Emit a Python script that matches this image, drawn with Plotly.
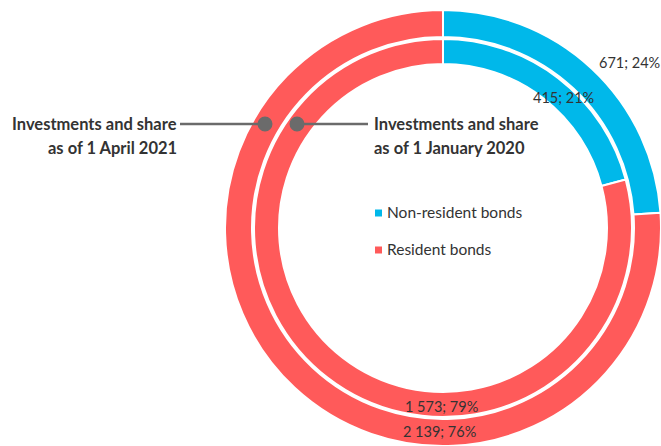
import plotly.graph_objects as go

# Bond investments: outer ring = 1 April 2021, inner ring = 1 January 2020
categories = ["Non-resident bonds", "Resident bonds"]
values_2021 = [671, 2139]
values_2020 = [415, 1573]
colors = ["#00B8EA", "#FF5A5A"]

W, H = 661, 446
CX, CY = 443, 228  # ring centre in pixels
TEXT = "#333333"
FONT = "Lato"


def px(x):
    return x / W


def py(y):
    return 1 - y / H


def fmt(v, total):
    return f"{v:,}".replace(",", " ") + f"; {round(100 * v / total)}%"


def ring(values, r_out, r_in):
    return go.Pie(
        labels=categories,
        values=values,
        hole=r_in / r_out,
        sort=False,
        direction="clockwise",
        rotation=0,
        textinfo="none",
        hoverinfo="label+value+percent",
        marker=dict(colors=colors, line=dict(color="white", width=2)),
        domain=dict(x=[px(CX - r_out), px(CX + r_out)],
                    y=[py(CY + r_out), py(CY - r_out)]),
        showlegend=False,
    )


fig = go.Figure([ring(values_2021, 218, 191), ring(values_2020, 189, 164)])


def note(x, y, text, size, xanchor="center", bold=False):
    return dict(x=px(x), y=py(y), xref="paper", yref="paper",
                xanchor=xanchor, yanchor="middle", showarrow=False,
                text=f"<b>{text}</b>" if bold else text, borderpad=0,
                font=dict(family=FONT, size=size, color=TEXT))


t21, t20 = sum(values_2021), sum(values_2020)
annotations = [
    # value labels
    note(629, 63, fmt(values_2021[0], t21), 14.5),
    note(563, 98, fmt(values_2020[0], t20), 14.5),
    note(441, 406, fmt(values_2020[1], t20), 14.5),
    note(440, 431, fmt(values_2021[1], t21), 14.5),
    # callout titles
    note(178, 124, "Investments and share", 16.5, "right", True),
    note(178, 148, "as of 1 April 2021", 16.5, "right", True),
    note(373, 124, "Investments and share", 16.5, "left", True),
    note(373, 148, "as of 1 January 2020", 16.5, "left", True),
]

# legend
legend_rows = [212, 249]
for name, yy in zip(categories, legend_rows):
    annotations.append(note(386, yy, name, 15.5, "left"))

shapes = []
for c, yy in zip(colors, legend_rows):
    shapes.append(dict(type="rect", xref="paper", yref="paper",
                       x0=px(375), x1=px(382), y0=py(yy - 2.5), y1=py(yy + 4.5),
                       fillcolor=c, line=dict(width=0)))

# callout leader lines and dots
GREY = "#6B6B6B"
shapes += [
    dict(type="line", xref="paper", yref="paper", x0=px(180), x1=px(265),
         y0=py(124), y1=py(124), line=dict(color=GREY, width=2.5)),
    dict(type="line", xref="paper", yref="paper", x0=px(297), x1=px(368),
         y0=py(124), y1=py(124), line=dict(color=GREY, width=2.5)),
]
for dx in (265, 297):
    shapes.append(dict(type="circle", xref="paper", yref="paper",
                       x0=px(dx - 7.5), x1=px(dx + 7.5),
                       y0=py(124 + 7.5), y1=py(124 - 7.5),
                       fillcolor=GREY, line=dict(width=0)))

fig.update_layout(
    width=W, height=H,
    margin=dict(l=0, r=0, t=0, b=0),
    paper_bgcolor="white", plot_bgcolor="white",
    annotations=annotations, shapes=shapes,
    showlegend=False,
)

fig.write_html("out.html")
